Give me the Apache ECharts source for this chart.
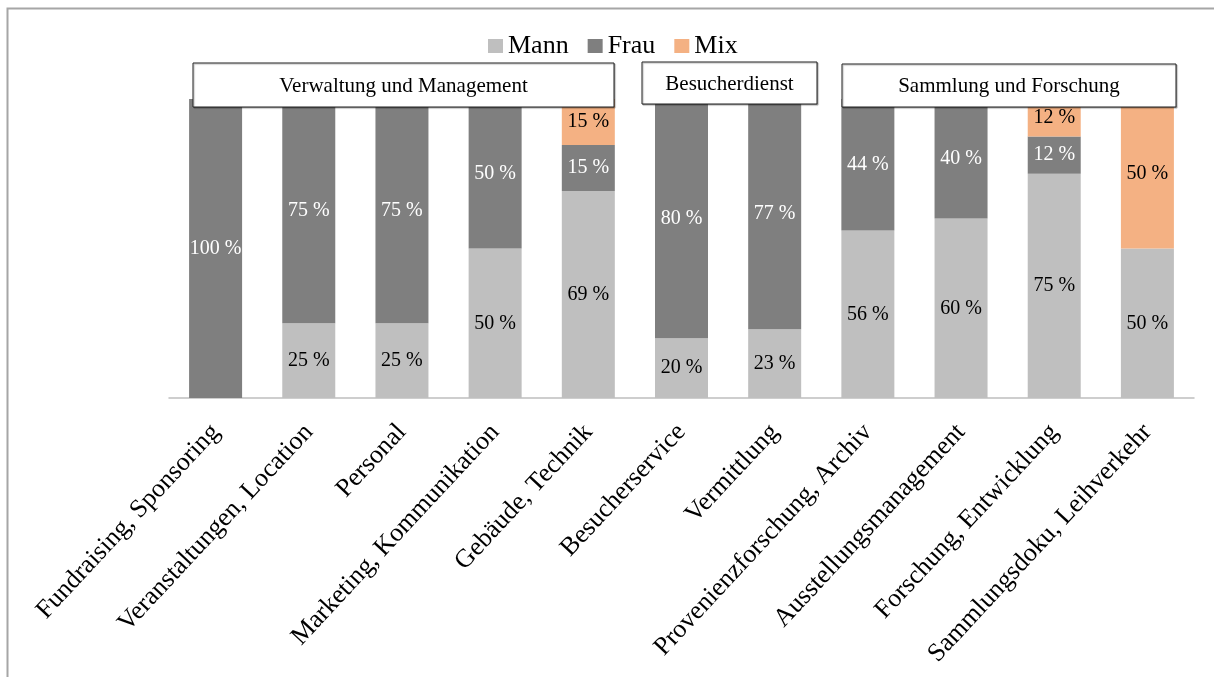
<!DOCTYPE html>
<html>
<head>
<meta charset="utf-8">
<title>Mann / Frau / Mix</title>
<script src="https://cdn.jsdelivr.net/npm/echarts@6/dist/echarts.min.js"></script>
<style>
html, body {
  margin: 0;
  padding: 0;
  background: #fff;
}
#chart {
  width: 1214px;
  height: 677px;
}
</style>
</head>
<body>
<div id="chart"></div>
<script>
// Kategorien (x-Achse)
const categories = [
  'Fundraising, Sponsoring',
  'Veranstaltungen, Location',
  'Personal',
  'Marketing, Kommunikation',
  'Gebäude, Technik',
  'Besucherservice',
  'Vermittlung',
  'Provenienzforschung, Archiv',
  'Ausstellungsmanagement',
  'Forschung, Entwicklung',
  'Sammlungsdoku, Leihverkehr'
]

// Anteile in Prozent
const mann = [0, 25, 25, 50, 69.2, 20, 23, 56, 60, 75, 50]
const frau = [100, 75, 75, 50, 15.4, 80, 77, 44, 40, 12.5, 0]
const mix = [0, 0, 0, 0, 15.4, 0, 0, 0, 0, 12.5, 50]

// Gruppen-Überschriften
const groups = ['Verwaltung und Management', 'Besucherdienst', 'Sammlung und Forschung']

const FONT = "'Liberation Serif', 'Times New Roman', serif"

// Balkenbeschriftung, leere Segmente ohne Label
function pctLabel (color) {
  return {
    show: true,
    position: 'inside',
    color: color,
    fontFamily: FONT,
    fontSize: 20,
    formatter: p => (p.value > 0 ? Math.floor(p.value) + ' %' : '')
  }
}

// Kasten mit Gruppenname, liegt über den Balken
function groupBox (x, y, w, h, text) {
  return {
    type: 'group',
    children: [
      {
        type: 'rect',
        z: 100,
        shape: { x: x, y: y, width: w, height: h },
        style: {
          fill: '#fff',
          stroke: '#222',
          lineWidth: 1,
          shadowColor: 'rgba(0,0,0,0.3)',
          shadowOffsetX: 1,
          shadowOffsetY: 1,
          shadowBlur: 1
        }
      },
      {
        type: 'text',
        z: 101,
        x: x + w / 2,
        y: y + h / 2 + 1,
        style: {
          text: text,
          fill: '#000',
          font: '21px ' + FONT,
          align: 'center',
          verticalAlign: 'middle'
        }
      }
    ]
  }
}

const myChart = echarts.init(document.getElementById('chart'))
myChart.setOption({
  animation: false,
  backgroundColor: '#fff',
  legend: {
    data: ['Mann', 'Frau', 'Mix'],
    left: 483,
    top: 28,
    icon: 'rect',
    itemWidth: 15,
    itemHeight: 14,
    itemGap: 19,
    textStyle: {
      color: '#000',
      fontFamily: FONT,
      fontSize: 26
    }
  },
  grid: {
    left: 169,
    right: 20,
    top: 99,
    bottom: 279
  },
  xAxis: {
    type: 'category',
    data: categories,
    axisLine: { lineStyle: { color: '#bfbfbf', width: 1.5 } },
    axisTick: { show: false },
    axisLabel: {
      interval: 0,
      rotate: 47,
      margin: 30,
      color: '#000',
      fontFamily: FONT,
      fontSize: 26
    }
  },
  yAxis: {
    type: 'value',
    min: 0,
    max: 100,
    show: false,
    splitLine: { show: false }
  },
  series: [
    {
      name: 'Mann',
      type: 'bar',
      stack: 'anteil',
      barWidth: 53,
      data: mann,
      itemStyle: { color: '#bfbfbf' },
      label: pctLabel('#000')
    },
    {
      name: 'Frau',
      type: 'bar',
      stack: 'anteil',
      barWidth: 53,
      data: frau,
      itemStyle: { color: '#7f7f7f' },
      label: pctLabel('#fff')
    },
    {
      name: 'Mix',
      type: 'bar',
      stack: 'anteil',
      barWidth: 53,
      data: mix,
      itemStyle: { color: '#f4b183' },
      label: pctLabel('#000')
    }
  ],
  graphic: [
    // Rahmen links und oben
    {
      type: 'polyline',
      shape: { points: [[7.5, 677], [7.5, 8.5], [1214, 8.5]] },
      style: { stroke: '#a6a6a6', lineWidth: 2, fill: null }
    },
    groupBox(193, 63, 421, 44, groups[0]),
    groupBox(642, 62, 175, 42, groups[1]),
    groupBox(842, 64, 334, 43, groups[2])
  ]
})
</script>
</body>
</html>
